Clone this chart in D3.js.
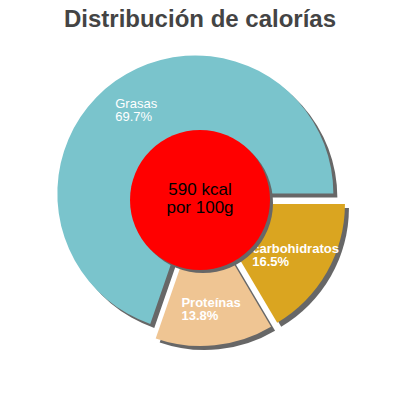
<!DOCTYPE html>
<html>
<meta charset="utf-8">
<head>
<style>
body { margin: 0; background: #fff; }
svg { font-family: "Liberation Sans", Arial, sans-serif; }
</style>
<script src="https://d3js.org/d3.v7.min.js"></script>
</head>
<body>
<script>
// chart data
var labels = ["Grasas", "Proteínas", "carbohidratos"];
var percents = [69.7, 13.8, 16.5];
var colors = ["#7ac4cc", "#efc593", "#daa520"];
var title = "Distribución de calorías";
var centerLines = ["590 kcal", "por 100g"];

var width = 400, height = 400;
var cx = 200, cy = 200, radius = 138, explode = 8;

var svg = d3.select("body").append("svg")
    .attr("width", width)
    .attr("height", height);

svg.append("text")
    .attr("x", width / 2)
    .attr("y", 27)
    .attr("text-anchor", "middle")
    .style("font-size", "24px")
    .style("font-weight", "bold")
    .style("fill", "#444")
    .text(title);

var data = labels.map(function(l, i) { return {label: l, value: percents[i], color: colors[i]}; });

// counter-clockwise from 3 o'clock
var pie = d3.pie()
    .sort(null)
    .value(d => d.value)
    .startAngle(Math.PI / 2)
    .endAngle(Math.PI / 2 - 2 * Math.PI);

var arc = d3.arc().innerRadius(0).outerRadius(radius);
var arcs = pie(data);

function offset(d) {
  var a = (d.startAngle + d.endAngle) / 2;
  return [Math.sin(a) * explode, -Math.cos(a) * explode];
}

var g = svg.append("g").attr("transform", "translate(" + cx + "," + cy + ")");

// shadows
g.selectAll(".shadow")
  .data(arcs).enter()
  .append("path")
    .attr("class", "shadow")
    .attr("transform", d => { var o = offset(d); return "translate(" + (o[0] + 4) + "," + (o[1] + 4) + ")"; })
    .attr("d", arc)
    .style("fill", "#676767");

g.selectAll(".slice")
  .data(arcs).enter()
  .append("path")
    .attr("class", "slice")
    .attr("transform", d => { var o = offset(d); return "translate(" + o[0] + "," + o[1] + ")"; })
    .attr("d", arc)
    .style("fill", d => d.data.color);

// labels, block centred on the mid angle
var labelArc = d3.arc().innerRadius(102).outerRadius(102);
arcs.forEach(function(d) {
  var o = offset(d);
  var c = labelArc.centroid(d);
  var t = g.append("text")
      .style("font-size", "13px")
      .style("font-weight", d.data.label === "Grasas" ? "normal" : "bold")
      .style("fill", "#fff");
  var l1 = t.append("tspan").text(d.data.label);
  var l2 = t.append("tspan").text(d.data.value.toFixed(1) + "%");
  var w = Math.max(l1.node().getComputedTextLength(), l2.node().getComputedTextLength());
  var x = c[0] + o[0] - w / 2, y = c[1] + o[1];
  l1.attr("x", x).attr("y", y - 2);
  l2.attr("x", x).attr("y", y + 11);
});

// centre circle
g.append("circle")
    .attr("cx", 3).attr("cy", 3).attr("r", 70)
    .style("fill", "#676767");
g.append("circle")
    .attr("r", 70)
    .style("fill", "#ff0000");

g.selectAll(".center")
  .data(centerLines).enter()
  .append("text")
    .attr("class", "center")
    .attr("x", 0)
    .attr("y", (d, i) => -5 + i * 18)
    .attr("text-anchor", "middle")
    .style("font-size", "17px")
    .style("fill", "#000")
    .text(d => d);
</script>
</body>
</html>
